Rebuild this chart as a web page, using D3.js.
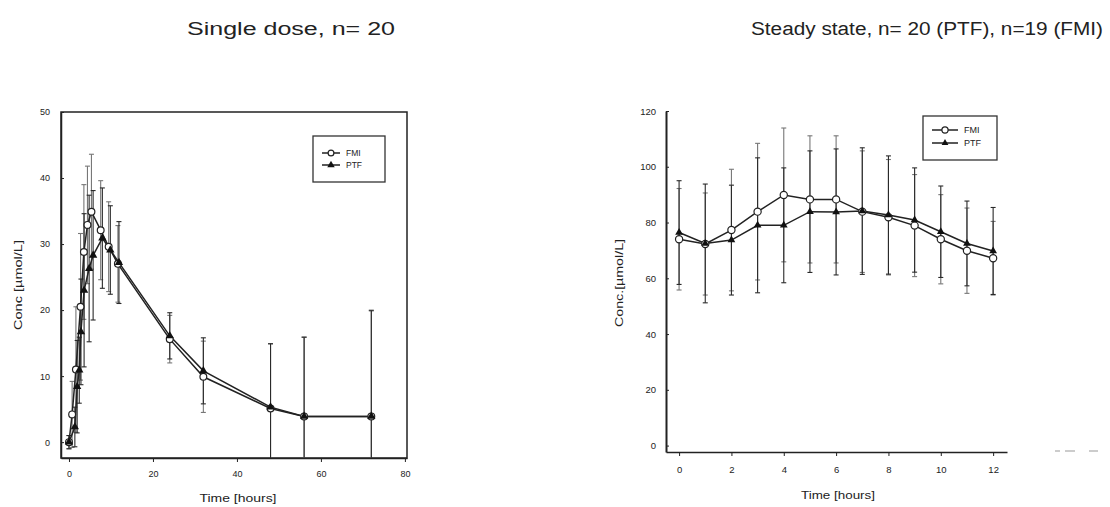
<!doctype html>

<meta charset="utf-8">
<title>FMI vs PTF concentration</title>

<script src="https://cdn.jsdelivr.net/npm/d3@7"></script>

<style>
body {
  margin: 0;
  background: #fff;
}

svg text {
  font-family: "Liberation Sans", Arial, sans-serif;
  fill: #222;
}

.axis path,
.axis line {
  stroke: #222;
}
</style>

<svg id="svg" width="1110" height="507"></svg>

<script>
// single dose panel
var fmiSingleTime = [0, 0.75, 1.65, 2.75, 3.55, 4.4, 5.35, 7.55, 9.45, 11.65, 24, 32, 48, 56, 72];
var fmiSingleConc = [0, 4.2, 11.0, 20.5, 28.8, 32.9, 34.9, 32.1, 29.6, 27.0, 15.6, 9.9, 5.1, 3.9, 3.9];
var fmiSingleSd   = [1, 5, 9.5, 11.1, 10.2, 8.9, 8.7, 7.5, 6.8, 5.8, 3.6, 5.4, 9.8, 12, 16.1];

var ptfSingleTime = [0, 1.4, 1.95, 2.45, 2.85, 3.6, 4.8, 5.75, 7.95, 9.85, 11.9, 24, 32, 48, 56, 72];
var ptfSingleConc = [0, 2.3, 8.4, 10.9, 16.7, 23.0, 26.3, 28.3, 30.9, 29.1, 27.2, 16.1, 10.8, 5.3, 3.9, 3.9];
var ptfSingleSd   = [1, 3, 7, 5, 8, 11.6, 11.1, 9.8, 7.6, 6.7, 6.2, 3.5, 5, 9.6, 12, 16];

var singleXTicks = [0, 20, 40, 60, 80];
var singleYTicks = [0, 10, 20, 30, 40, 50];

// steady state panel
var ssTime    = [0, 1, 2, 3, 4, 5, 6, 7, 8, 9, 10, 11, 12];
var fmiSsConc = [74.0, 72.3, 77.3, 83.9, 89.9, 88.3, 88.3, 83.9, 81.9, 78.9, 74.0, 69.9, 67.2];
var fmiSsSd   = [18.2, 18.3, 21.8, 24.5, 24.0, 22.8, 22.8, 21.8, 20.7, 18.3, 16.0, 15.3, 13.2];
var ptfSsConc = [76.4, 72.5, 73.7, 79.0, 79.0, 83.9, 83.8, 84.1, 82.7, 80.9, 76.7, 72.5, 69.8];
var ptfSsSd   = [18.6, 21.3, 19.7, 24.2, 20.6, 21.8, 22.6, 22.7, 21.2, 18.7, 16.4, 15.2, 15.6];

var ssXTicks = [0, 2, 4, 6, 8, 10, 12];
var ssYTicks = [0, 20, 40, 60, 80, 100, 120];

var seriesNames = ["FMI", "PTF"];

var svg = d3.select("svg");

function zip(ts, vs, sds) {
  return ts.map(function(t, i) { return {t: t, v: vs[i], sd: sds[i]}; });
}

function drawPanel(opt) {
  var x = d3.scaleLinear().domain(opt.xDomain).range(opt.xRange),
      y = d3.scaleLinear().domain(opt.yDomain).range(opt.yRange),
      g = svg.append("g");

  var clipId = opt.id + "-clip";
  svg.append("clipPath").attr("id", clipId)
    .append("rect")
      .attr("x", opt.xRange[0]).attr("y", opt.yRange[1])
      .attr("width", opt.xRange[1] - opt.xRange[0])
      .attr("height", opt.yRange[0] - opt.yRange[1]);

  // axes
  var xAxis = d3.axisBottom(x).tickValues(opt.xTicks)
        .tickSizeInner(4).tickSizeOuter(0).tickPadding(opt.xPad),
      yAxis = d3.axisLeft(y).tickValues(opt.yTicks)
        .tickSizeInner(-3).tickSizeOuter(0).tickPadding(opt.yPad);

  g.append("g").attr("class", "axis")
    .attr("transform", "translate(0," + opt.yRange[0] + ")")
    .call(xAxis)
    .call(function(a) {
      a.selectAll("text").style("font-size", opt.tickFont + "px");
      a.select(".domain").attr("stroke-width", 1.5);
    });

  g.append("g").attr("class", "axis")
    .attr("transform", "translate(" + opt.xRange[0] + ",0)")
    .call(yAxis)
    .call(function(a) {
      a.selectAll("text").style("font-size", opt.tickFont + "px");
      a.select(".domain").attr("stroke-width", opt.yAxisWidth);
    });

  if (opt.frame) {
    g.append("rect")
      .attr("x", opt.xRange[0]).attr("y", opt.yRange[1])
      .attr("width", opt.xRange[1] - opt.xRange[0])
      .attr("height", opt.yRange[0] - opt.yRange[1])
      .attr("fill", "none").attr("stroke", "#222").attr("stroke-width", 1.5);
  }

  var plot = g.append("g").attr("clip-path", "url(#" + clipId + ")");

  var line = d3.line().x(function(d) { return x(d.t); }).y(function(d) { return y(d.v); });

  // error bars first, then lines and markers on top
  opt.series.forEach(function(s) {
    var bars = plot.append("g").attr("stroke", s.barColor).attr("stroke-width", 1.1);
    s.data.forEach(function(d) {
      var cx = x(d.t), top = y(d.v + d.sd), bot = y(d.v - d.sd);
      bars.append("line").attr("x1", cx).attr("x2", cx).attr("y1", top).attr("y2", bot);
      bars.append("line").attr("x1", cx - 2.5).attr("x2", cx + 2.5).attr("y1", top).attr("y2", top);
      bars.append("line").attr("x1", cx - 2.5).attr("x2", cx + 2.5).attr("y1", bot).attr("y2", bot);
    });
  });

  opt.series.forEach(function(s) {
    plot.append("path").datum(s.data)
      .attr("d", line)
      .attr("fill", "none").attr("stroke", "#222").attr("stroke-width", 1.5);
  });

  opt.series.forEach(function(s) {
    var m = plot.append("g");
    s.data.forEach(function(d) {
      drawMarker(m, s.name, x(d.t), y(d.v), opt.markerR, opt.triSize);
    });
  });

  // legend
  var lg = g.append("g");
  lg.append("rect")
    .attr("x", opt.legend.x).attr("y", opt.legend.y)
    .attr("width", opt.legend.w).attr("height", opt.legend.h)
    .attr("fill", "#fff").attr("stroke", "#333").attr("stroke-width", 1.3);
  seriesNames.forEach(function(name, i) {
    var ly = opt.legend.y + opt.legend.row0 + i * opt.legend.step,
        lx = opt.legend.x + opt.legend.lineX;
    lg.append("line").attr("x1", lx).attr("x2", lx + opt.legend.lineW)
      .attr("y1", ly).attr("y2", ly).attr("stroke", "#222").attr("stroke-width", 1.5);
    drawMarker(lg, name, lx + opt.legend.lineW / 2, ly, opt.markerR - 0.5, opt.triSize - 6);
    lg.append("text").attr("x", lx + opt.legend.lineW + 6).attr("y", ly)
      .attr("dy", "0.35em").style("font-size", opt.legend.font + "px").text(name);
  });

  // axis titles
  g.append("text")
    .attr("x", opt.xTitle.x).attr("y", opt.xTitle.y)
    .attr("text-anchor", "middle").style("font-size", "11px")
    .attr("textLength", opt.xTitle.len).attr("lengthAdjust", "spacingAndGlyphs")
    .text(opt.xTitle.text);

  g.append("text")
    .attr("transform", "translate(" + opt.yTitle.x + "," + opt.yTitle.y + ") rotate(-90)")
    .attr("text-anchor", "middle").style("font-size", "11px")
    .attr("textLength", opt.yTitle.len).attr("lengthAdjust", "spacingAndGlyphs")
    .text(opt.yTitle.text);

  svg.append("text")
    .attr("x", opt.title.x).attr("y", 35)
    .attr("text-anchor", "middle").style("font-size", "18px")
    .attr("textLength", opt.title.len).attr("lengthAdjust", "spacingAndGlyphs")
    .text(opt.title.text);
}

function drawMarker(sel, name, cx, cy, r, triSize) {
  if (name === "FMI") {
    sel.append("circle").attr("cx", cx).attr("cy", cy).attr("r", r)
      .attr("fill", "#fff").attr("stroke", "#222").attr("stroke-width", 1.2);
  } else {
    sel.append("path")
      .attr("d", d3.symbol(d3.symbolTriangle).size(triSize)())
      .attr("transform", "translate(" + cx + "," + cy + ")")
      .attr("fill", "#111");
  }
}

drawPanel({
  id: "single",
  xDomain: [-1.9, 80.5], xRange: [61, 407],
  yDomain: [-2.4, 50], yRange: [458, 112],
  xTicks: singleXTicks, yTicks: singleYTicks,
  xPad: 9, yPad: 11, tickFont: 9, yAxisWidth: 1.5,
  frame: true, markerR: 3.4, triSize: 30,
  series: [
    {name: "FMI", barColor: "#777", data: zip(fmiSingleTime, fmiSingleConc, fmiSingleSd)},
    {name: "PTF", barColor: "#2a2a2a", data: zip(ptfSingleTime, ptfSingleConc, ptfSingleSd)}
  ],
  legend: {x: 313, y: 136, w: 72, h: 46, row0: 17, step: 12, lineX: 9, lineW: 18, font: 8.5},
  xTitle: {x: 238, y: 502, len: 77, text: "Time [hours]"},
  yTitle: {x: 22, y: 285, len: 90, text: "Conc [\u00b5mol/L]"},
  title: {x: 291, len: 208, text: "Single dose, n= 20"}
});

drawPanel({
  id: "steady",
  xDomain: [-0.5, 12.53], xRange: [666, 1007],
  yDomain: [-2.3, 120], yRange: [452, 111],
  xTicks: ssXTicks, yTicks: ssYTicks,
  xPad: 10, yPad: 10, tickFont: 9.5, yAxisWidth: 2,
  frame: false, markerR: 3.6, triSize: 26,
  series: [
    {name: "FMI", barColor: "#777", data: zip(ssTime, fmiSsConc, fmiSsSd)},
    {name: "PTF", barColor: "#2a2a2a", data: zip(ssTime, ptfSsConc, ptfSsSd)}
  ],
  legend: {x: 923, y: 116, w: 74, h: 44, row0: 14, step: 13, lineX: 9, lineW: 26, font: 9},
  xTitle: {x: 838, y: 499, len: 74, text: "Time [hours]"},
  yTitle: {x: 623, y: 283, len: 88, text: "Conc.[\u00b5mol/L]"},
  title: {x: 927, len: 352, text: "Steady state, n= 20 (PTF), n=19 (FMI)"}
});

// faint scan marks at the lower right
svg.append("g").attr("stroke", "#aaa").attr("stroke-width", 1.2)
  .selectAll("line").data([[1055, 1060], [1065, 1075], [1089, 1098]])
  .join("line")
    .attr("x1", function(d) { return d[0]; }).attr("x2", function(d) { return d[1]; })
    .attr("y1", 451).attr("y2", 451);
</script>
